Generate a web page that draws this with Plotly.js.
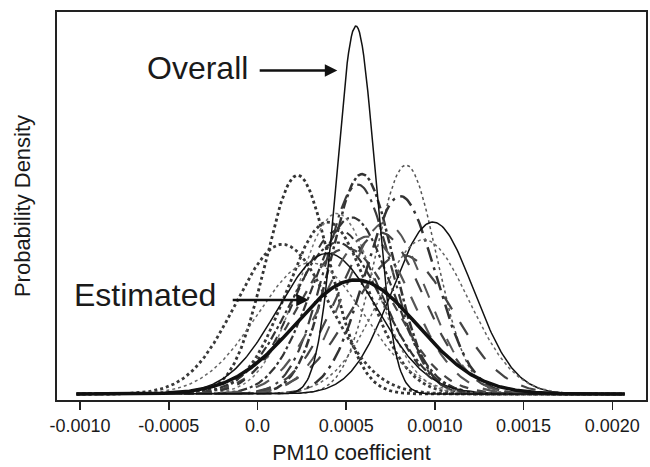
<!DOCTYPE html>
<html><head><meta charset="utf-8">
<script src="https://cdn.plot.ly/plotly-3.0.1.min.js"></script>
<style>html,body{margin:0;padding:0;background:#fff}#chart{width:650px;height:467px}</style>
</head><body><div id="chart"></div>
<script>
// Normal-density curves (units of 1e-3 for mean & sd)
const curveNames = ["Overall","Estimated","c3","c4","c5","c6","c7","c8","c9","c10","c11","c12","c13","c14","c15","c16","c17","c18","c19","c20","c21","c22"];
const curveMeans = [0.555,0.555,0.226,0.589,0.566,0.837,0.805,0.989,0.937,0.532,0.395,0.448,0.692,0.141,0.448,0.395,0.814,0.500,0.620,0.300,0.460,0.720];
const curveSDs   = [0.107,0.345,0.180,0.179,0.188,0.172,0.199,0.229,0.255,0.223,0.229,0.218,0.244,0.263,0.260,0.280,0.283,0.270,0.250,0.300,0.240,0.230];
const curveDash  = ["solid","solid","dot","dashdot","longdashdot","dot","longdashdot","solid","dot","dashdot","dot","dot","longdash","dot","dashdot","solid","longdash","dash","longdash","dot","dash","longdash"];
const curveColor = ["#111","#111","#333","#333","#3a3a3a","#555","#333","#111","#666","#333","#3a3a3a","#777","#444","#3a3a3a","#333","#111","#444","#444","#555","#666","#333","#555"];
const curveWidth = [1.5,3.5,2.8,2.5,2.2,1.5,2.5,1.5,1.5,2.2,2.8,1.5,2.2,2.8,2.2,1.5,2.2,2.2,2.2,1.5,2,2];
const xStart = -0.00102, xEnd = 0.00207, nPts = 400;
const xTickVals = [-0.0010,-0.0005,0.0,0.0005,0.0010,0.0015,0.0020];
const xTickText = ["-0.0010","-0.0005","0.0","0.0005","0.0010","0.0015","0.0020"];

const xs = [];
for (let i = 0; i < nPts; i++) xs.push(xStart + (xEnd - xStart) * i / (nPts - 1));
function dnorm(x, m, s){ return Math.exp(-0.5*((x-m)/s)**2) / (s*Math.sqrt(2*Math.PI)); }

const traces = [];
const order = [];
for (let i = 2; i < curveNames.length; i++) order.push(i);
order.push(1, 0);
for (const i of order) {
  const m = curveMeans[i]*1e-3, s = curveSDs[i]*1e-3;
  traces.push({
    x: xs, y: xs.map(x => dnorm(x, m, s)), type: 'scatter', mode: 'lines',
    name: curveNames[i], showlegend: false, hoverinfo: 'skip',
    line: {color: curveColor[i], width: curveWidth[i], dash: curveDash[i]}
  });
}
const peak = 1/(curveSDs[0]*1e-3*Math.sqrt(2*Math.PI));
const font = {family: '"Liberation Sans", Arial, Helvetica, sans-serif', color: '#1a1a1a'};

const layout = {
  width: 650, height: 467,
  margin: {l: 57, r: 4, t: 12, b: 67},
  paper_bgcolor: '#fff', plot_bgcolor: '#fff',
  showlegend: false,
  xaxis: {
    range: [-0.00113, 0.00219], showgrid: false, zeroline: false,
    tickvals: xTickVals, ticktext: xTickText, ticks: 'outside', ticklen: 8, tickwidth: 1.5, tickcolor: '#222',
    tickfont: Object.assign({size: 18}, font),
    showline: true, linecolor: '#222', linewidth: 2, mirror: true,
    title: {text: 'PM10 coefficient', font: Object.assign({size: 21.5}, font), standoff: 10}
  },
  yaxis: {
    range: [-0.0163*peak, 1.038*peak], showgrid: false, zeroline: false,
    showticklabels: false, ticks: '',
    showline: true, linecolor: '#222', linewidth: 2, mirror: true,
    title: {text: 'Probability Density', font: Object.assign({size: 22}, font), standoff: 18}
  },
  annotations: [
    {xref: 'x', yref: 'paper', x: -0.000337, y: 0.856, text: 'Overall', showarrow: false,
     font: Object.assign({size: 32}, font), xanchor: 'center', yanchor: 'middle'},
    {xref: 'x', yref: 'paper', x: 0.000450, y: 0.849, axref: 'x', ayref: 'pixel', ax: 0.000004, ay: 0,
     text: '', showarrow: true, arrowhead: 2, arrowsize: 1, arrowwidth: 2.5, arrowcolor: '#111'},
    {xref: 'x', yref: 'paper', x: -0.000636, y: 0.2706, text: 'Estimated', showarrow: false,
     font: Object.assign({size: 32}, font), xanchor: 'center', yanchor: 'middle'},
    {xref: 'x', yref: 'paper', x: 0.000289, y: 0.2577, axref: 'x', ayref: 'pixel', ax: -0.000148, ay: 0,
     text: '', showarrow: true, arrowhead: 2, arrowsize: 1, arrowwidth: 2.5, arrowcolor: '#111'}
  ]
};
Plotly.newPlot('chart', traces, layout, {staticPlot: true, displayModeBar: false});
</script></body></html>
